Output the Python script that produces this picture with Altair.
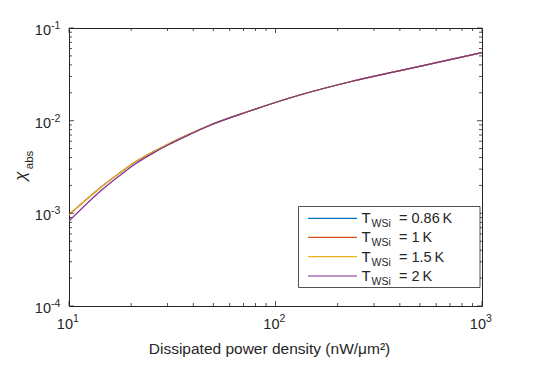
import altair as alt
import pandas as pd

# ---- data ----
power = [10, 14.5, 17.5, 21, 25.3, 30.5, 36.7, 47.6, 75, 131, 230, 401, 700, 1000]
chi_15 = [9.66e-4, 1.963e-3, 2.70e-3, 3.61e-3, 4.55e-3, 5.64e-3, 6.85e-3, 8.85e-3,
          1.27e-2, 1.89e-2, 2.63e-2, 3.47e-2, 4.55e-2, 5.43e-2]
chi_086 = [9.7e-4, 1.965e-3, 2.70e-3, 3.61e-3, 4.55e-3, 5.64e-3, 6.85e-3, 8.85e-3,
           1.27e-2, 1.89e-2, 2.63e-2, 3.47e-2, 4.55e-2, 5.43e-2]
chi_1 = [9.68e-4, 1.964e-3, 2.70e-3, 3.61e-3, 4.55e-3, 5.64e-3, 6.85e-3, 8.85e-3,
         1.27e-2, 1.89e-2, 2.63e-2, 3.47e-2, 4.55e-2, 5.43e-2]
chi_2 = [8.26e-4, 1.81e-3, 2.53e-3, 3.43e-3, 4.41e-3, 5.52e-3, 6.75e-3, 8.82e-3,
         1.27e-2, 1.89e-2, 2.63e-2, 3.47e-2, 4.55e-2, 5.43e-2]
series_names = ["0.86 K", "1 K", "1.5 K", "2 K"]
legend_labels = ["= 0.86\u2009K", "= 1\u2009K", "= 1.5\u2009K", "= 2\u2009K"]
colors = ["#0072BD", "#D95319", "#EDB120", "#7E2F8E"]

y_major = [1e-4, 1e-3, 1e-2, 1e-1]
y_exps = ["-4", "-3", "-2", "-1"]
x_major = [10, 100, 1000]
x_exps = ["1", "2", "3"]
mult = [2, 3, 4, 5, 6, 7, 8, 9]

W, H = 413, 278
FONT = "Liberation Sans"
AX = "#262626"

rows = []
for name, vals in zip(series_names, [chi_086, chi_1, chi_15, chi_2]):
    for xv, yv in zip(power, vals):
        rows.append({"x": xv, "y": yv, "s": name})
df = pd.DataFrame(rows)

xs = alt.Scale(type="log", domain=[10, 1000], nice=False)
ys = alt.Scale(type="log", domain=[1e-4, 1e-1], nice=False)
noax = alt.Axis(labels=False, ticks=False, domain=False, grid=False, title=None)

lines = alt.Chart(df).mark_line(strokeWidth=1.2, clip=True, interpolate="monotone").encode(
    x=alt.X("x:Q", scale=xs, axis=noax),
    y=alt.Y("y:Q", scale=ys, axis=noax),
    color=alt.Color("s:N", scale=alt.Scale(domain=series_names, range=colors), legend=None),
    order=alt.Order("x:Q"),
    detail="s:N",
)

# ticks
y_minor = [m * d for d in y_major[:-1] for m in mult]
x_minor = [m * d for d in x_major[:-1] for m in mult]
ytk = pd.DataFrame({"v": y_major + y_minor, "L": [5] * len(y_major) + [3] * len(y_minor)})
xtk = pd.DataFrame({"v": x_major + x_minor, "L": [5] * len(x_major) + [3] * len(x_minor)})

tick_layers = []
for tlen, sub in [(5, ytk[ytk.L == 5]), (3, ytk[ytk.L == 3])]:
    tick_layers.append(alt.Chart(sub).mark_rule(color=AX, strokeWidth=0.8).encode(
        y=alt.Y("v:Q", scale=ys, axis=noax), x=alt.value(0), x2=alt.value(tlen)))
    tick_layers.append(alt.Chart(sub).mark_rule(color=AX, strokeWidth=0.8).encode(
        y=alt.Y("v:Q", scale=ys, axis=noax), x=alt.value(W), x2=alt.value(W - tlen)))
for tlen, sub in [(5, xtk[xtk.L == 5]), (3, xtk[xtk.L == 3])]:
    tick_layers.append(alt.Chart(sub).mark_rule(color=AX, strokeWidth=0.8).encode(
        x=alt.X("v:Q", scale=xs, axis=noax), y=alt.value(H), y2=alt.value(H - tlen)))
    tick_layers.append(alt.Chart(sub).mark_rule(color=AX, strokeWidth=0.8).encode(
        x=alt.X("v:Q", scale=xs, axis=noax), y=alt.value(0), y2=alt.value(tlen)))

# tick labels
ylab = pd.DataFrame({"v": y_major, "e": y_exps, "b": ["10"] * 4})
xlab = pd.DataFrame({"v": x_major, "e": x_exps, "b": ["10"] * 3})
ylab_base = alt.Chart(ylab).mark_text(font=FONT, fontSize=14.5, color=AX, align="right",
                                      baseline="alphabetic", dy=7).encode(
    y=alt.Y("v:Q", scale=ys, axis=noax), x=alt.value(-18), text="b:N")
ylab_exp = alt.Chart(ylab).mark_text(font=FONT, fontSize=10.5, color=AX, align="left",
                                     baseline="alphabetic", dy=1).encode(
    y=alt.Y("v:Q", scale=ys, axis=noax), x=alt.value(-18), text="e:N")
xlab_base = alt.Chart(xlab).mark_text(font=FONT, fontSize=14.5, color=AX, align="right",
                                      baseline="alphabetic", dx=4).encode(
    x=alt.X("v:Q", scale=xs, axis=noax), y=alt.value(H + 23), text="b:N")
xlab_exp = alt.Chart(xlab).mark_text(font=FONT, fontSize=10.5, color=AX, align="left",
                                     baseline="alphabetic", dx=4).encode(
    x=alt.X("v:Q", scale=xs, axis=noax), y=alt.value(H + 16), text="e:N")

one = pd.DataFrame({"a": [0]})

# axis titles
xtitle = alt.Chart(one).mark_text(font=FONT, fontSize=15.5, color=AX, align="center",
                                  baseline="alphabetic").encode(
    x=alt.value(W / 2 - 6), y=alt.value(H + 48), text=alt.value("Dissipated power density (nW/\u03bcm\u00b2)"))
ytitle_chi = alt.Chart(one).mark_text(font=FONT, fontSize=17, color=AX, align="center",
                                      baseline="middle", angle=270, fontStyle="italic").encode(
    x=alt.value(-48), y=alt.value(148), text=alt.value("\u03c7"))
ytitle_sub = alt.Chart(one).mark_text(font=FONT, fontSize=11.5, color=AX, align="center",
                                      baseline="middle", angle=270).encode(
    x=alt.value(-39), y=alt.value(132), text=alt.value("abs"))

# legend
leg_box = alt.Chart(one).mark_rect(fill="white", stroke=AX, strokeWidth=0.8).encode(
    x=alt.value(229.5), x2=alt.value(411), y=alt.value(178.5), y2=alt.value(259.5))
row_y = [190.3, 209.3, 228.7, 248.0]
leg_layers = [leg_box]
for ry, col, lab in zip(row_y, colors, legend_labels):
    leg_layers.append(alt.Chart(one).mark_rule(color=col, strokeWidth=1.2).encode(
        x=alt.value(239), x2=alt.value(288), y=alt.value(ry)))
    leg_layers.append(alt.Chart(one).mark_text(font=FONT, fontSize=15, color=AX, align="left",
                                               baseline="alphabetic").encode(
        x=alt.value(292.5), y=alt.value(ry + 5), text=alt.value("T")))
    leg_layers.append(alt.Chart(one).mark_text(font=FONT, fontSize=10.5, color=AX, align="left",
                                               baseline="alphabetic").encode(
        x=alt.value(302.5), y=alt.value(ry + 9), text=alt.value("WSi")))
    leg_layers.append(alt.Chart(one).mark_text(font=FONT, fontSize=14.5, color=AX, align="left",
                                               baseline="alphabetic").encode(
        x=alt.value(330), y=alt.value(ry + 5), text=alt.value(lab)))

chart = alt.layer(
    lines, *tick_layers, ylab_base, ylab_exp, xlab_base, xlab_exp,
    xtitle, ytitle_chi, ytitle_sub, *leg_layers
).properties(
    width=W, height=H,
    autosize=alt.AutoSizeParams(type="none"),
    padding={"left": 61, "top": 20, "right": 40, "bottom": 56},
    background="white",
).configure_view(stroke=AX, strokeWidth=1)

chart.save("out.html", embed_options={"renderer": "svg", "actions": False})
